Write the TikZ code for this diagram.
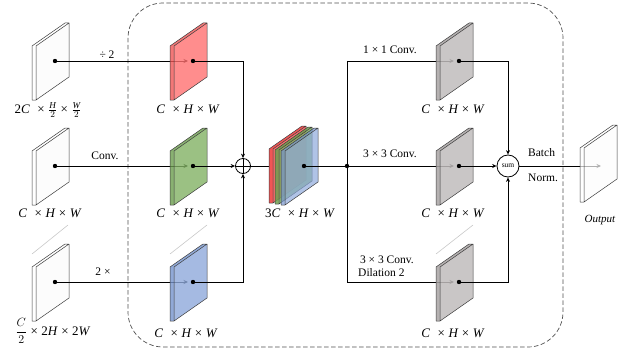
\documentclass[tikz,border=0pt]{standalone}
\usepackage{fontspec}
\setmainfont{Liberation Serif}
\usetikzlibrary{arrows.meta,calc}
\definecolor{redf}{RGB}{255,112,112}
\definecolor{redd}{RGB}{240,85,85}
\definecolor{greenf}{RGB}{130,178,100}
\definecolor{greend}{RGB}{108,158,78}
\definecolor{bluef}{RGB}{142,169,219}
\definecolor{blued}{RGB}{118,148,205}
\definecolor{grayf}{RGB}{192,188,188}
\definecolor{grayd}{RGB}{168,163,163}
\definecolor{whitef}{RGB}{252,252,252}
\definecolor{edgec}{RGB}{60,60,60}
\definecolor{faint}{RGB}{200,200,200}
\newcommand{\myslab}[6]{%
  \fill[#5,fill opacity=#6] (#2,#3) -- ++(4,0) -- ++(0,54) -- ++(-4,0) -- cycle;
  \fill[#4,fill opacity=#6] (#2+4,#3) -- ++(33,-23) -- ++(0,54) -- ++(-33,23) -- cycle;
  \fill[#5,fill opacity=#6] (#2,#3) -- ++(33,-23) -- ++(4,0) -- ++(-33,23) -- cycle;
  \draw[slabedge] (#2,#3) -- ++(33,-23) -- ++(4,0) -- ++(0,54) -- ++(-33,23) -- ++(-4,0) -- cycle
     (#2+4,#3) -- ++(33,-23) (#2+4,#3) -- ++(0,54);
  \coordinate (#1) at (#2+23,#3+15);
}
\newcommand{\tm}{\hspace{3.5pt}×\hspace{3.5pt}}
\newcommand{\chw}{\textit{C}\hspace{4pt}\tm\textit{H}\tm\textit{W}}
\tikzset{
  slabedge/.style={draw=edgec,line width=0.5pt,line join=round},
  conn/.style={draw=black,line width=0.8pt},
  arr/.style={conn,-{Stealth[length=4.5pt,width=4pt]}},
  inarr/.style={arr,shorten >=5pt},
  dotc/.style={fill=black},
  lbl/.style={font=\fontsize{13}{15}\selectfont,inner sep=1pt},
  txt/.style={font=\fontsize{11.5}{13}\selectfont,inner sep=1pt},
  faintline/.style={draw=faint,line width=0.6pt},
}
\begin{document}
\begin{tikzpicture}[x=1pt,y=-1pt]
\useasboundingbox (0,0) rectangle (624,353);
% dashed frame
\draw[draw=edgec!90,line width=0.7pt,dash pattern=on 4.5pt off 2.5pt,rounded corners=35pt] (128,3) rectangle (563,347);
% faint ellipsis lines
\draw[faintline] (32,254) -- (68,225);
\draw[faintline] (170,254) -- (207,225);
\draw[faintline] (436,254) -- (473,225);
% input slabs
\myslab{i1}{32}{46}{whitef}{white}{1}
\myslab{i2}{32}{151}{whitef}{white}{1}
\myslab{i3}{32}{267}{whitef}{white}{1}
% circles
\node[circle,draw,line width=0.8pt,minimum size=15pt,inner sep=0pt] (plus) at (243,166) {};
\draw[line width=0.8pt] (plus.north) -- (plus.south) (plus.west) -- (plus.east);
\node[circle,draw,line width=0.8pt,minimum size=22pt,inner sep=0pt,font=\fontsize{7.5}{8}\selectfont] (sum) at (508,166) {sum};
% coordinates
\coordinate (br) at (347,166);
\coordinate (brt) at (347,61);
\coordinate (brb) at (347,282);
\coordinate (outin) at (601,166);
\coordinate (m1) at (193,61);
\coordinate (m2) at (193,166);
\coordinate (m3) at (193,282);
\coordinate (k1) at (459,61);
\coordinate (k2) at (459,166);
\coordinate (k3) at (459,282);
% connectors passing under slabs
\draw[inarr] (i1) -- (m1);
\draw[inarr] (i2) -- (m2);
\draw[inarr] (i3) -- (m3);
\draw[conn] (plus.east) -- (304,166);
\draw[inarr] (brt) -- (k1);
\draw[inarr] (br) -- (k2);
\draw[inarr] (brb) -- (k3);
\draw[arr] (sum.east) -- (outin);
% middle slabs
\myslab{r1}{170}{46}{redf}{redd}{0.8}
\myslab{g1}{170}{151}{greenf}{greend}{0.8}
\myslab{b1}{170}{267}{bluef}{blued}{0.8}
% concat slab
\myslab{cr}{269}{149}{redf}{redd}{1}
\myslab{cg}{275}{150}{greenf}{greend}{0.85}
\myslab{cat}{281}{151}{bluef}{blued}{0.7}
% gray slabs
\myslab{q1}{436}{46}{grayf}{grayd}{0.85}
\myslab{q2}{436}{151}{grayf}{grayd}{0.85}
\myslab{q3}{436}{267}{grayf}{grayd}{0.85}
% output slab
\myslab{out}{580}{148}{whitef}{white}{0.7}
% connectors on top
\draw[arr] (r1) -| (plus.north);
\draw[arr] (g1) -- (plus.west);
\draw[arr] (b1) -| (plus.south);
\draw[conn] (cat) -- (br);
\draw[conn] (brt) -- (brb);
\draw[arr] (q1) -| (sum.north);
\draw[arr] (q2) -- (sum.west);
\draw[arr] (q3) -| (sum.south);
% dots
\foreach \p in {i1,i2,i3,r1,g1,b1,cat,br,q1,q2,q3} \fill[dotc] (\p) circle (2.2pt);
% labels
\node[lbl] (li1) at (48,110) {2\textit{C}\hspace{4pt}\tm$\frac{\mathit{H}}{2}$\tm$\frac{\mathit{W}}{2}$};
\node[lbl] (li2) at (50,213) {\chw};
\node[lbl] (li3) at (53,331) {$\displaystyle\frac{C}{2}$\tm2\textit{H}\tm2\textit{W}};
\node[lbl] (lr1) at (188,109) {\chw};
\node[lbl] (lg1) at (188,213) {\chw};
\node[lbl] (lb1) at (186,333) {\chw};
\node[lbl] (lcat) at (300,213) {3\chw};
\node[lbl] (lq1) at (453,109) {\chw};
\node[lbl] (lq2) at (453,213) {\chw};
\node[lbl] (lq3) at (453,333) {\chw};
\node[txt] (tdiv) at (107,55) {÷ 2};
\node[txt] (tconv) at (105,156) {Conv.};
\node[txt] (tup) at (103,272) {2 ×};
\node[txt] (t11) at (390,50) {1 × 1 Conv.};
\node[txt] (t33) at (390,154) {3 × 3 Conv.};
\node[txt,align=left,anchor=west] (tdil) at (357,266) {\,3 × 3 Conv.\\Dilation 2};
\node[txt,anchor=west] (tbatch) at (527,153) {Batch};
\node[txt,anchor=west] (tnorm) at (527,178) {Norm.};
\node[txt,font=\fontsize{11}{12}\selectfont\itshape] (tout) at (600,220) {Output};
\end{tikzpicture}
\end{document}
